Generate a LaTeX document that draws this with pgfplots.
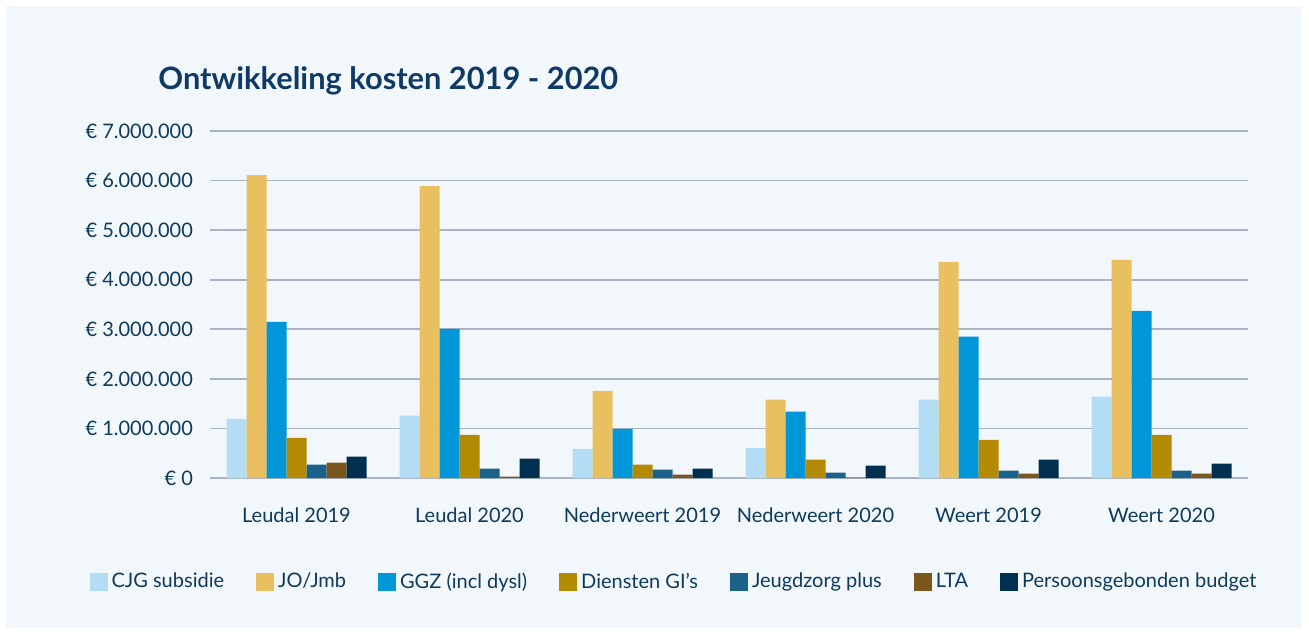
\documentclass[border=0pt]{standalone}
\usepackage{pgfplots}
\pgfplotsset{compat=1.18}
\usepackage{fontspec}
\setmainfont{Lato}
\definecolor{bgc}{HTML}{F2F7FB}
\definecolor{txt}{HTML}{0E3A5B}
\definecolor{ttl}{HTML}{0F3A66}
\definecolor{gridc}{HTML}{A8B3C4}
\definecolor{cA}{HTML}{B3DDF5}
\definecolor{cB}{HTML}{E9C060}
\definecolor{cC}{HTML}{0096D8}
\definecolor{cD}{HTML}{B38A03}
\definecolor{cE}{HTML}{1B6189}
\definecolor{cF}{HTML}{7B561D}
\definecolor{cG}{HTML}{00304F}
\begin{document}
\begin{tikzpicture}
\fill[white] (0pt,0pt) rectangle (654.5pt,316pt);
\fill[bgc] (3pt,2pt) rectangle (651pt,313pt);
\node[anchor=base west, text=ttl, font=\fontsize{15.4}{18}\selectfont\bfseries, inner sep=0pt] at (79pt,271pt) {Ontwikkeling kosten 2019 - 2020};
\begin{axis}[
  at={(105pt,77pt)}, anchor=south west,
  scale only axis, width=519pt, height=173.5pt,
  xmin=-0.5, xmax=5.5, ymin=0, ymax=7000000,
  ybar=0pt, bar width=10pt,
  axis line style={draw=none},
  tick style={draw=none},
  scaled y ticks=false,
  xtick=data,
  xticklabels={Leudal 2019,Leudal 2020,Nederweert 2019,Nederweert 2020,Weert 2019,Weert 2020},
  ytick={0,1000000,2000000,3000000,4000000,5000000,6000000,7000000},
  yticklabels={€ 0,€ 1.000.000,€ 2.000.000,€ 3.000.000,€ 4.000.000,€ 5.000.000,€ 6.000.000,€ 7.000.000},
  ymajorgrids, major grid style={gridc, line width=0.9pt},
  ticklabel style={text=txt, font=\fontsize{10}{12}\selectfont},
  yticklabel style={xshift=-5pt},
  xticklabel style={yshift=-7pt},
  legend columns=7,
  legend style={at={(0.448,-0.30)}, anchor=center, draw=none, fill=none,
    font=\fontsize{10}{12}\selectfont, text=txt,
    /tikz/every even column/.append style={column sep=14pt}},
  legend image code/.code={\fill[#1, draw=none] (0pt,-4.5pt) rectangle (9pt,4.5pt);},
  every axis plot/.append style={draw=none},
]
\addplot[fill=cA] coordinates {(0,1195000) (1,1260000) (2,590000) (3,610000) (4,1580000) (5,1640000)};
\addplot[fill=cB] coordinates {(0,6110000) (1,5890000) (2,1760000) (3,1580000) (4,4360000) (5,4400000)};
\addplot[fill=cC] coordinates {(0,3150000) (1,3010000) (2,990000) (3,1340000) (4,2850000) (5,3370000)};
\addplot[fill=cD] coordinates {(0,810000) (1,870000) (2,270000) (3,370000) (4,770000) (5,870000)};
\addplot[fill=cE] coordinates {(0,270000) (1,190000) (2,170000) (3,110000) (4,150000) (5,150000)};
\addplot[fill=cF] coordinates {(0,310000) (1,30000) (2,70000) (3,10000) (4,90000) (5,90000)};
\addplot[fill=cG] coordinates {(0,430000) (1,390000) (2,190000) (3,250000) (4,370000) (5,290000)};
\legend{CJG subsidie,JO/Jmb,GGZ (incl dysl),Diensten GI’s,Jeugdzorg plus,LTA,Persoonsgebonden budget}
\end{axis}
\end{tikzpicture}
\end{document}
